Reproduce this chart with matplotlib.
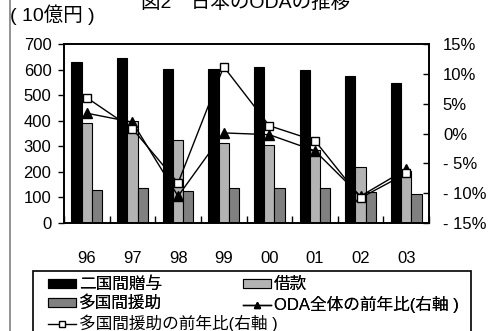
import matplotlib
matplotlib.use("Agg")
import matplotlib.pyplot as plt
import numpy as np
from matplotlib.patches import Rectangle, Patch
from matplotlib.lines import Line2D

plt.rcParams['font.family'] = ['Liberation Sans', 'Noto Sans CJK JP']

years = ["96", "97", "98", "99", "00", "01", "02", "03"]
bilateral_grant = [630, 646, 604, 604, 611, 599, 576, 548]
loans = [392, 398, 323, 312, 306, 287, 220, 203]
multilateral = [128, 135, 124, 135, 135, 135, 122, 112]
oda_yoy = [3.4, 1.9, -10.5, 0.1, -0.2, -2.9, -10.5, -6.0]
multi_yoy = [6.0, 0.8, -8.3, 11.2, 1.3, -1.2, -10.8, -6.7]
left_ticks = [0, 100, 200, 300, 400, 500, 600, 700]
right_ticks = [-15, -10, -5, 0, 5, 10, 15]
right_labels = ["- 15%", "- 10%", "- 5%", "0%", "5%", "10%", "15%"]
labels = ["二国間贈与", "借款", "多国間援助", "ODA全体の前年比(右軸 )", "多国間援助の前年比(右軸 )"]

W, H = 492, 331
fig = plt.figure(figsize=(W / 100, H / 100), dpi=100)
ax = fig.add_axes([64 / W, 1 - 223 / H, (429 - 64) / W, (223 - 44) / H])

x = np.arange(len(years))
bw = 0.225
c_black, c_light, c_dark = "#000000", "#b3b3b3", "#808080"
ax.bar(x - bw, bilateral_grant, bw, color=c_black, edgecolor="black", linewidth=0.8, zorder=2)
ax.bar(x, loans, bw, color=c_light, edgecolor="black", linewidth=0.8, zorder=2)
ax.bar(x + bw, multilateral, bw, color=c_dark, edgecolor="black", linewidth=0.8, zorder=2)

ax.set_xlim(-0.5, len(years) - 0.5)
ax.set_ylim(0, 700)
ax.set_yticks(left_ticks)
ax.tick_params(axis='y', direction='out', length=4, width=1, labelsize=12, pad=5)
ax.set_xticks(x)
ax.set_xticklabels(years)
ax.tick_params(axis='x', which='major', length=0, labelsize=12, pad=20)
ax.set_xticks(np.arange(-0.5, len(years), 1.0), minor=True)
ax.tick_params(axis='x', which='minor', direction='in', length=5, width=1)
for s in ax.spines.values():
    s.set_linewidth(1.2)

ax2 = ax.twinx()
ax2.set_ylim(-15, 15)
ax2.set_yticks(right_ticks)
ax2.set_yticklabels(right_labels)
ax2.tick_params(axis='y', direction='in', length=4, width=1, labelsize=12, pad=10)
ax2.plot(x, oda_yoy, color="black", lw=1, marker="^", ms=6.5, mfc="black", mec="black", zorder=3)
ax2.plot(x, multi_yoy, color="black", lw=1, marker="s", ms=5.5, mfc="white", mec="black", zorder=3)
for s in ax2.spines.values():
    s.set_linewidth(1.2)

fig.text(246 / W, 1 - 8 / H, "図2　日本のODAの推移", ha='center', va='baseline', fontsize=14)
fig.text(10 / W, 1 - 15 / H, "( 10億円 )", ha='left', va='center', fontsize=14)

fig.add_artist(Line2D([9.5 / W, 9.5 / W], [0, 1], color="#808080", lw=1.2))

fig.add_artist(Rectangle((33 / W, -0.1), (471 - 33) / W, 0.1 + 1 - 271 / H,
                         fill=False, edgecolor="black", lw=1.2, transform=fig.transFigure))

h_black = Patch(facecolor=c_black, edgecolor="black", lw=0.8)
h_light = Patch(facecolor=c_light, edgecolor="black", lw=0.8)
h_dark = Patch(facecolor=c_dark, edgecolor="black", lw=0.8)
h_oda = Line2D([], [], color="black", lw=1, marker="^", ms=5, mfc="black")
h_multi = Line2D([], [], color="black", lw=1, marker="s", ms=4.5, mfc="white", mec="black")

legA = fig.legend([h_black, h_dark, h_light, h_oda], [labels[0], labels[2], labels[1], labels[3]],
                  ncol=2, loc='upper left', bbox_to_anchor=(48 / W, 1 - 277 / H),
                  frameon=False, borderpad=0, borderaxespad=0, fontsize=12,
                  handlelength=1.7, handleheight=0.45, handletextpad=0.15,
                  labelspacing=0.2, columnspacing=4.85)
legB = fig.legend([h_multi], [labels[4]], loc='upper left', bbox_to_anchor=(48 / W, 1 - 315 / H),
                  frameon=False, borderpad=0, borderaxespad=0, fontsize=12,
                  handlelength=1.7, handleheight=0.45, handletextpad=0.15)
fig.add_artist(legA)

fig.savefig("out.png", dpi=100)
